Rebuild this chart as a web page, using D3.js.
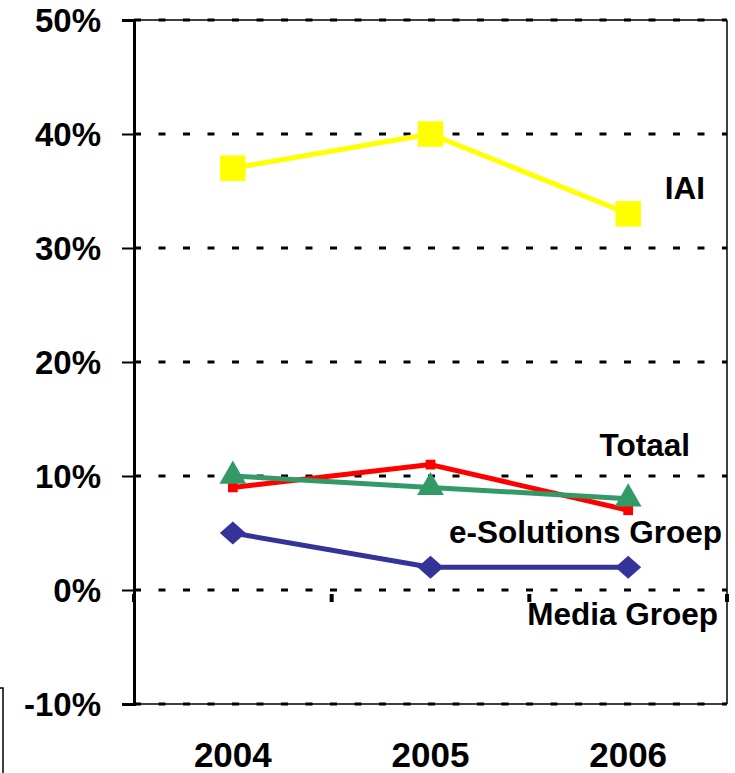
<!DOCTYPE html>
<html>
<head>
<meta charset="utf-8">
<script src="https://cdn.jsdelivr.net/npm/d3@7"></script>
<style>
  body { margin: 0; background: #fff; }
  text { font-family: "Liberation Sans", Arial, sans-serif; font-weight: bold; fill: #000; }
</style>
</head>
<body>
<svg id="chart" width="735" height="773"></svg>
<script>
// Chart data
const years = ["2004", "2005", "2006"];
const yTicks = [-10, 0, 10, 20, 30, 40, 50];
const iai = [37, 40, 33];
const totaal = [9, 11, 7];
const eSolutions = [10, 9, 8];
const media = [5, 2, 2];

const svg = d3.select("#chart");

// Plot area
const plotLeft = 134, plotRight = 727, plotTop = 20, plotBottom = 704;

const x = d3.scalePoint().domain(years).range([plotLeft, plotRight]).padding(0.5);
const y = d3.scaleLinear().domain([-10, 50]).range([plotBottom, plotTop]);

// Little stray box corner at bottom left of the picture
svg.append("path")
    .attr("d", "M0,688 L3,688 L3,773")
    .attr("fill", "none")
    .attr("stroke", "#000")
    .attr("stroke-width", 1.5);

// Solid frame lines top / bottom / right
svg.append("line")
    .attr("x1", plotLeft - 12).attr("x2", plotRight)
    .attr("y1", y(50)).attr("y2", y(50))
    .attr("stroke", "#000").attr("stroke-width", 1.5);
svg.append("line")
    .attr("x1", plotLeft - 12).attr("x2", plotRight)
    .attr("y1", y(-10)).attr("y2", y(-10))
    .attr("stroke", "#000").attr("stroke-width", 1.5);
svg.append("line")
    .attr("x1", plotRight).attr("x2", plotRight)
    .attr("y1", plotTop).attr("y2", plotBottom)
    .attr("stroke", "#000").attr("stroke-width", 1.5);

// Dashed gridlines
svg.append("g")
    .selectAll("line")
    .data(yTicks)
    .join("line")
    .attr("x1", plotLeft).attr("x2", plotRight)
    .attr("y1", d => y(d)).attr("y2", d => y(d))
    .attr("stroke", "#000")
    .attr("stroke-width", 3)
    .attr("stroke-dasharray", "7,17.5");

// Y axis with tick labels
const yAxis = svg.append("g")
    .attr("transform", "translate(" + plotLeft + ",0)")
    .call(d3.axisLeft(y).tickValues(yTicks).tickSize(12).tickPadding(21)
        .tickFormat(d => d + "%"));
yAxis.select(".domain").attr("stroke-width", 3);
yAxis.selectAll(".tick line").attr("stroke-width", 2);
yAxis.selectAll("text")
    .attr("font-size", 33)
    .attr("font-family", "Liberation Sans, Arial, sans-serif")
    .attr("font-weight", "bold")
    .attr("dy", "0.36em");

// Category tick marks under the 0% line (band boundaries)
const step = x.step();
const bounds = d3.range(years.length + 1).map(i => plotLeft + i * step);
svg.append("g")
    .selectAll("line")
    .data(bounds)
    .join("line")
    .attr("x1", d => d).attr("x2", d => d)
    .attr("y1", y(0) + 4).attr("y2", y(0) + 12)
    .attr("stroke", "#000")
    .attr("stroke-width", 4);

// Year labels
svg.append("g")
    .selectAll("text")
    .data(years)
    .join("text")
    .attr("x", d => x(d))
    .attr("y", 767)
    .attr("text-anchor", "middle")
    .attr("font-size", 35)
    .text(d => d);

// Series
const line = d3.line()
    .x((d, i) => x(years[i]))
    .y(d => y(d));

// wide diamond: a rotated square, flattened a bit
const wideDiamond = {
    draw(context, size) {
        const w = Math.sqrt(size) * 0.75;
        const h = w * 0.88;
        context.moveTo(-w, 0);
        context.lineTo(0, -h);
        context.lineTo(w, 0);
        context.lineTo(0, h);
        context.closePath();
    }
};

function drawSeries(values, color, width, symbolType, size) {
    svg.append("path")
        .datum(values)
        .attr("d", line)
        .attr("fill", "none")
        .attr("stroke", color)
        .attr("stroke-width", width)
        .attr("stroke-linejoin", "round");

    svg.append("g")
        .selectAll("path")
        .data(values)
        .join("path")
        .attr("transform", (d, i) => "translate(" + x(years[i]) + "," + y(d) + ")")
        .attr("d", d3.symbol().type(symbolType).size(size))
        .attr("fill", color);
}

drawSeries(iai, "#FFFF00", 5, d3.symbolSquare, 650);
drawSeries(totaal, "#FF0000", 5, d3.symbolSquare, 95);
drawSeries(eSolutions, "#339966", 5, d3.symbolTriangle, 310);
drawSeries(media, "#333399", 5, wideDiamond, 300);

// Series labels (right-aligned)
const labels = [
    { text: "IAI", x: 705, y: 199 },
    { text: "Totaal", x: 690, y: 456 },
    { text: "e-Solutions Groep", x: 722, y: 543 },
    { text: "Media Groep", x: 718, y: 625 }
];
svg.append("g")
    .selectAll("text")
    .data(labels)
    .join("text")
    .attr("x", d => d.x)
    .attr("y", d => d.y)
    .attr("text-anchor", "end")
    .attr("font-size", 31.5)
    .text(d => d.text);
</script>
</body>
</html>
